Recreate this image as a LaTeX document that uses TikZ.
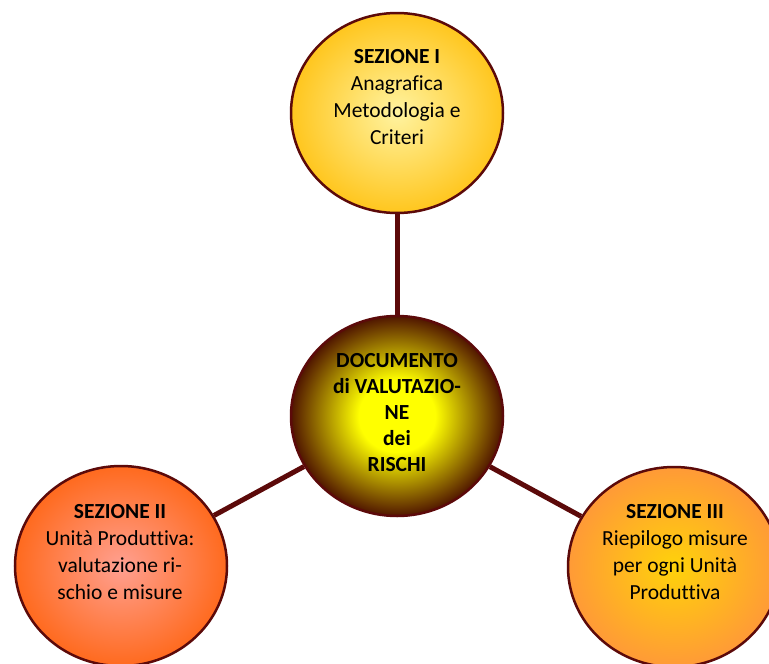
\documentclass[tikz,border=0pt]{standalone}
\usepackage{fontspec}
\setmainfont[Ligatures=NoCommon]{Carlito}
\usetikzlibrary{shapes.geometric}
\definecolor{maroon}{RGB}{92,10,10}
\definecolor{topin}{RGB}{255,243,160}
\definecolor{topout}{RGB}{255,198,30}
\definecolor{ctrin}{RGB}{255,255,0}
\definecolor{ctrout}{RGB}{80,22,0}
\definecolor{leftin}{RGB}{255,160,145}
\definecolor{leftout}{RGB}{255,106,30}
\definecolor{rightin}{RGB}{255,210,10}
\definecolor{rightout}{RGB}{255,154,55}
\pgfdeclareradialshading{centershade}{\pgfpoint{0bp}{0bp}}{color(0bp)=(ctrin); color(9bp)=(ctrin); color(25bp)=(ctrout); color(50bp)=(ctrout)}
\begin{document}
\begin{tikzpicture}[x=1pt,y=-1pt,
  circ/.style={ellipse, draw=maroon, line width=2.5pt, minimum width=212pt, minimum height=200pt, inner sep=0pt},
  lbl/.style={align=center, font=\fontsize{21.5}{27}\selectfont, inner sep=0pt},
  link/.style={draw=maroon, line width=5pt}]
\clip (0,0) rectangle (769,664);
\fill[white] (0,0) rectangle (769,664);
\node[circ, inner color=topin, outer color=topout] (T) at (397,113) {};
\node[circ, shade, shading=centershade] (C) at (397,416) {};
\node[circ, inner color=leftin, outer color=leftout] (L) at (121,566) {};
\node[circ, inner color=rightin, outer color=rightout] (R) at (674,567) {};
\draw[link] (C) -- (T);
\draw[link] (C) -- (L);
\draw[link] (C) -- (R);
\node[lbl] (tT) at (397,97) {\textbf{SEZIONE I}\\Anagrafica\\Metodologia e\\Criteri};
\node[lbl, font=\fontsize{21.5}{26}\selectfont\bfseries] (tC) at (397,413) {DOCUMENTO\\di VALUTAZIO-\\NE\\dei\\RISCHI};
\node[lbl] (tL) at (120,552) {\textbf{SEZIONE II}\\Unità Produttiva:\\valutazione ri-\\schio e misure};
\node[lbl] (tR) at (675,552) {\textbf{SEZIONE III}\\Riepilogo misure\\per ogni Unità\\Produttiva};
\end{tikzpicture}
\end{document}
